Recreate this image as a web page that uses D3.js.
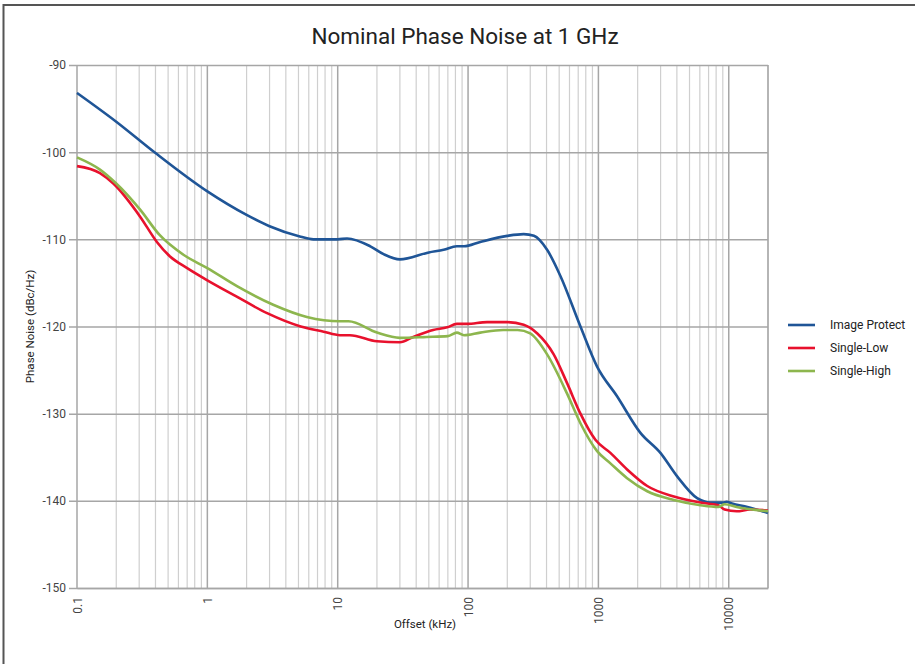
<!DOCTYPE html>
<html>
<head>
<meta charset="utf-8">
<script src="https://cdn.jsdelivr.net/npm/d3@7"></script>
<style>
  body { margin: 0; background: #fff; }
  svg { display: block; font-family: Roboto, "Liberation Sans", sans-serif; }
</style>
</head>
<body>
<svg id="chart" width="915" height="664"></svg>
<script>
// offset in kHz, phase noise in dBc/Hz
const imageProtectX = [0.1, 0.2, 0.4, 1, 2, 3, 5.2, 6.5, 10, 11.8, 17.8, 22.5, 30, 50, 65, 82, 93, 124, 200, 267, 320, 404, 511, 728, 977, 1390, 2100, 2990, 4020, 5720, 7240, 9100, 9600, 10600, 13900, 20000];
const imageProtectY = [-93.2, -96.5, -100.1, -104.5, -107.2, -108.5, -109.7, -110.0, -110.0, -109.9, -110.8, -111.7, -112.3, -111.5, -111.2, -110.8, -110.8, -110.3, -109.6, -109.4, -109.6, -111.2, -114.2, -120.0, -124.6, -128.0, -132.2, -134.5, -137.2, -139.7, -140.2, -140.2, -140.1, -140.3, -140.7, -141.4];

const singleLowX = [0.1, 0.15, 0.19, 0.305, 0.41, 0.52, 0.7, 1, 1.6, 2.9, 5.2, 7.8, 10.4, 12.4, 20, 30, 38, 54, 69, 82, 98, 140, 200, 267, 340, 454, 575, 728, 948, 1236, 1660, 2370, 3790, 6070, 8300, 9300, 11500, 14600, 20000];
const singleLowY = [-101.6, -102.4, -103.6, -107.4, -110.3, -112.0, -113.3, -114.7, -116.4, -118.5, -120.0, -120.6, -121.0, -121.0, -121.7, -121.8, -121.2, -120.4, -120.1, -119.7, -119.7, -119.5, -119.5, -119.8, -120.8, -123.2, -126.5, -130.0, -133.0, -134.5, -136.4, -138.3, -139.5, -140.2, -140.5, -141.0, -141.2, -141.0, -141.1];

const singleHighX = [0.1, 0.15, 0.2, 0.305, 0.43, 0.66, 1, 1.7, 3.2, 5.8, 10.4, 12.1, 20, 30, 48, 70, 82, 93, 124, 186, 240, 300, 404, 575, 728, 977, 1236, 1660, 2370, 3790, 6070, 8300, 9300, 11500, 20000];
const singleHighY = [-100.6, -102.0, -103.6, -106.6, -109.5, -111.8, -113.3, -115.4, -117.5, -118.9, -119.4, -119.4, -120.7, -121.3, -121.2, -121.1, -120.7, -121.0, -120.7, -120.4, -120.4, -120.8, -123.2, -127.7, -131.1, -134.3, -135.7, -137.4, -138.9, -139.9, -140.5, -140.7, -140.4, -140.7, -141.2];

const seriesNames = ["Image Protect", "Single-Low", "Single-High"];
const seriesColors = ["#1f5597", "#e8112d", "#8db64e"];
const xTicks = [0.1, 1, 10, 100, 1000, 10000];
const xTickLabels = ["0.1", "1", "10", "100", "1000", "10000"];
const yTicks = [-150, -140, -130, -120, -110, -100, -90];

const seriesX = [imageProtectX, singleLowX, singleHighX];
const seriesY = [imageProtectY, singleLowY, singleHighY];

const svg = d3.select("#chart");
const margin = { left: 77, right: 147, top: 65, bottom: 76 };
const W = 915, H = 664;

// outer frame (top and left edges visible)
svg.append("rect")
  .attr("x", 3.5).attr("y", 5)
  .attr("width", 1000).attr("height", 1000)
  .attr("fill", "none").attr("stroke", "#555").attr("stroke-width", 2);

const x = d3.scaleLog().domain([0.1, 20000]).range([margin.left, W - margin.right]);
const y = d3.scaleLinear().domain([-150, -90]).range([H - margin.bottom, margin.top]);
const plotW = x(20000) - x(0.1);

// minor vertical grid
const minor = [];
for (let e = -1; e <= 4; e++) {
  for (let m = 2; m <= 9; m++) {
    const v = m * Math.pow(10, e);
    if (v <= 20000) minor.push(v);
  }
}
svg.append("g").selectAll("line").data(minor).join("line")
  .attr("x1", (d) => x(d)).attr("x2", (d) => x(d))
  .attr("y1", y(-90)).attr("y2", y(-150))
  .attr("stroke", "#cfcfcf").attr("stroke-width", 1.2);

// major vertical grid
svg.append("g").selectAll("line").data(xTicks).join("line")
  .attr("x1", (d) => x(d)).attr("x2", (d) => x(d))
  .attr("y1", y(-90)).attr("y2", y(-150))
  .attr("stroke", "#a6a6a6").attr("stroke-width", 1.5);

// horizontal grid + y axis
const yAxis = d3.axisLeft(y).tickValues(yTicks).tickFormat((d) => String(d)).tickSize(0);
const yg = svg.append("g").attr("transform", `translate(${x(20000)},0)`).call(yAxis);
yg.select(".domain").remove();
yg.selectAll(".tick line").attr("stroke", "#a6a6a6").attr("stroke-width", 1.5)
  .attr("x1", -plotW - 8).attr("x2", 0);
yg.selectAll(".tick text").attr("x", -plotW - 11)
  .attr("font-size", 12).attr("fill", "#444").attr("font-family", "Roboto, sans-serif");

// right border of plot
svg.append("line")
  .attr("x1", x(20000)).attr("x2", x(20000)).attr("y1", y(-90)).attr("y2", y(-150))
  .attr("stroke", "#a6a6a6").attr("stroke-width", 1.5);

// x axis
const xAxis = d3.axisBottom(x).tickValues(xTicks).tickFormat((d, i) => xTickLabels[i]).tickSize(0);
const xg = svg.append("g").attr("transform", `translate(0,${y(-150)})`).call(xAxis);
xg.select(".domain").attr("stroke", "#a6a6a6").attr("stroke-width", 1.5);
xg.selectAll(".tick text")
  .attr("transform", "rotate(-90)")
  .attr("text-anchor", "end")
  .attr("x", -9).attr("y", 0).attr("dy", "0.35em")
  .attr("font-size", 12).attr("fill", "#444").attr("font-family", "Roboto, sans-serif");

// series
const line = d3.line().x((d) => x(d[0])).y((d) => y(d[1])).curve(d3.curveMonotoneX);
seriesNames.forEach((name, i) => {
  const pts = seriesX[i].map((v, j) => [v, seriesY[i][j]]);
  svg.append("path").datum(pts)
    .attr("fill", "none")
    .attr("stroke", seriesColors[i])
    .attr("stroke-width", 2.6)
    .attr("stroke-linejoin", "round")
    .attr("d", line);
});

// title
svg.append("text")
  .attr("x", 465).attr("y", 44)
  .attr("text-anchor", "middle")
  .attr("font-size", 22.5).attr("fill", "#222")
  .text("Nominal Phase Noise at 1 GHz");

// axis titles
svg.append("text")
  .attr("transform", `translate(34,${(y(-90) + y(-150)) / 2}) rotate(-90)`)
  .attr("text-anchor", "middle")
  .attr("font-size", 11.5).attr("fill", "#222")
  .text("Phase Noise (dBc/Hz)");

svg.append("text")
  .attr("x", 425).attr("y", 628)
  .attr("text-anchor", "middle")
  .attr("font-size", 11.5).attr("fill", "#222")
  .text("Offset (kHz)");

// legend
const legend = svg.append("g").attr("transform", "translate(788,325)");
seriesNames.forEach((name, i) => {
  const row = legend.append("g").attr("transform", `translate(0,${i * 23})`);
  row.append("line").attr("x1", 0).attr("x2", 27).attr("y1", 0).attr("y2", 0)
    .attr("stroke", seriesColors[i]).attr("stroke-width", 2.6);
  row.append("text").attr("x", 42).attr("y", 0).attr("dy", "0.35em")
    .attr("font-size", 12).attr("fill", "#222").text(name);
});
</script>
</body>
</html>
